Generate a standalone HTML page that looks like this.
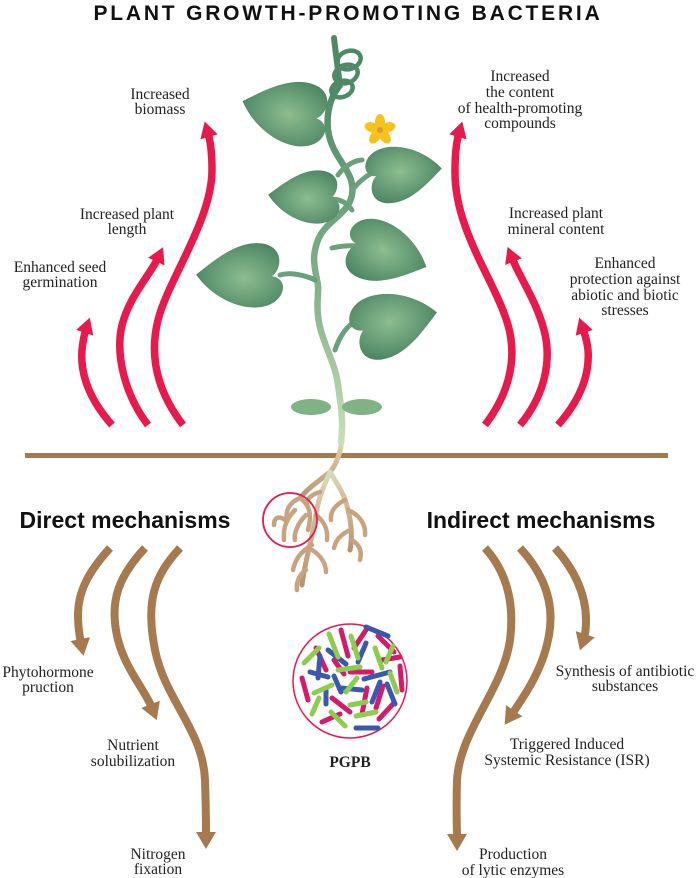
<!DOCTYPE html>
<html><head><meta charset="utf-8"><style>
html,body{margin:0;padding:0;background:#fff}
svg{display:block}
.t{font-family:"Liberation Serif",serif;font-size:15.5px;fill:#222;text-anchor:middle}
.h{font-family:"Liberation Sans",sans-serif;font-weight:bold;fill:#111}
</style></head><body>
<svg width="696" height="878" viewBox="0 0 696 878" xmlns="http://www.w3.org/2000/svg">
<defs>
<marker id="mr" markerUnits="userSpaceOnUse" markerWidth="24" markerHeight="24" refX="4" refY="9" orient="auto"><path d="M0,0 L16,9 L0,18 Z" fill="#e8194b"/></marker>
<marker id="mb" markerUnits="userSpaceOnUse" markerWidth="24" markerHeight="24" refX="4" refY="10" orient="auto"><path d="M0,0 L17,10 L0,20 Z" fill="#a67a4e"/></marker>
<radialGradient id="lg" cx="0.45" cy="0.45" r="0.6"><stop offset="0" stop-color="#8dbd90"/><stop offset="1" stop-color="#4a8461"/></radialGradient>
<linearGradient id="sg" x1="0" y1="0" x2="0" y2="1"><stop offset="0" stop-color="#4e8a66"/><stop offset="0.6" stop-color="#86b48c"/><stop offset="1" stop-color="#c9dfb6"/></linearGradient>
<linearGradient id="rg" x1="0" y1="0" x2="0" y2="1"><stop offset="0" stop-color="#d0e0c0"/><stop offset="0.25" stop-color="#dcc3a0"/><stop offset="1" stop-color="#b8936e"/></linearGradient>
<path id="leaf" d="M40,0 C18,-28 -22,-34 -34,-15 C-40,-4 -32,2 -26,2 C-34,8 -36,28 -16,30 C6,32 26,12 40,0Z"/>
</defs>
<text x="348" y="20" class="h" font-size="21" text-anchor="middle" letter-spacing="2.8">PLANT GROWTH-PROMOTING BACTERIA</text>

<!-- red arrows -->
<g fill="none" stroke="#e8194b" stroke-width="7.5" stroke-linecap="butt">
<path d="M183,425 C160,395 148,360 158,320 C168,280 212,220 212,170 C212,150 210,140 208,133" marker-end="url(#mr)"/>
<path d="M148,425 C125,395 115,355 122,325 C130,295 150,275 158,258" marker-end="url(#mr)"/>
<path d="M112,425 C90,400 80,375 82,350 C83,340 84,335 86,329" marker-end="url(#mr)"/>
<path d="M485,425 C508,395 518,360 508,325 C495,280 454,230 455,170 C455,150 457,140 459,133" marker-end="url(#mr)"/>
<path d="M520,425 C545,395 552,360 544,330 C536,300 520,278 512,258" marker-end="url(#mr)"/>
<path d="M558,425 C580,400 590,375 588,350 C587,340 585,335 583,329" marker-end="url(#mr)"/>
</g>

<!-- brown arrows -->
<g fill="none" stroke="#a67a4e" stroke-width="8">
<path d="M110,548 C90,570 78,590 78,615 C78,630 80,638 81,643" marker-end="url(#mb)"/>
<path d="M145,548 C120,575 108,600 118,640 C126,670 145,690 152,708" marker-end="url(#mb)"/>
<path d="M180,548 C155,575 145,600 155,650 C165,700 203,730 205,780 C206,810 206,825 206,836" marker-end="url(#mb)"/>
<path d="M555,548 C575,570 586,595 586,620 C586,630 585,635 584,638" marker-end="url(#mb)"/>
<path d="M520,548 C545,575 556,605 548,640 C542,670 525,695 512,714" marker-end="url(#mb)"/>
<path d="M485,548 C505,570 515,600 510,640 C503,690 460,730 457,780 C456,810 457,828 457,838" marker-end="url(#mb)"/>
</g>

<!-- ground -->
<rect x="25" y="453" width="643" height="5" fill="#a67a4e"/>

<!-- roots -->
<g fill="none" stroke="url(#rg)" stroke-width="5" stroke-linecap="round">
<path d="M342,440 C340,455 336,465 330,472 C320,480 308,488 300,498"/>
<path d="M330,472 C322,490 318,500 316,515 C312,540 305,560 302,585"/>
<path d="M330,472 C338,485 345,495 348,510 C352,525 352,540 350,550"/>
</g>
<g fill="none" stroke="#c7a47f" stroke-width="4.5" stroke-linecap="round">
<path d="M300,498 C290,502 285,510 287,520"/><path d="M300,498 C310,505 312,515 308,530"/>
<path d="M295,510 C285,520 283,530 284,540"/><path d="M306,515 C296,525 294,535 295,540"/>
<path d="M285,520 C278,515 274,518 274,525"/>
<path d="M316,515 C325,522 328,530 327,540"/><path d="M312,545 C300,552 295,560 293,570"/>
<path d="M312,550 C322,556 326,565 326,572"/><path d="M306,570 C298,575 296,585 297,590"/>
<path d="M345,500 C335,505 330,512 331,520"/><path d="M348,510 C360,515 366,525 365,535"/>
<path d="M350,530 C340,535 336,540 334,548"/><path d="M352,540 C360,545 362,552 360,560"/>
<path d="M320,492 C310,495 306,500 307,505"/>
</g>
<circle cx="290" cy="520" r="27" fill="none" stroke="#e8194b" stroke-width="1.8"/>

<!-- stem -->
<g fill="none" stroke-linecap="round">
<path d="M341,442 C344,420 340,400 338,385 C335,360 320,340 318,315 C316,300 320,290 317,280 C314,265 312,255 318,240 C326,220 348,215 352,195 C356,170 332,160 328,130 C326,110 332,95 340,85" stroke="url(#sg)" stroke-width="6.5"/>
<path d="M340,85 C338,70 336,55 334,38" stroke="#4e8a66" stroke-width="6"/>
<g stroke="#4e8a66" stroke-width="4.5">
<ellipse cx="349" cy="60" rx="12" ry="9" transform="rotate(-20 349 60)"/>
<ellipse cx="346" cy="74" rx="12" ry="9" transform="rotate(-20 346 74)"/>
<ellipse cx="342" cy="89" rx="11" ry="8" transform="rotate(-20 342 89)"/>
</g>
<g stroke="#6aa07a" stroke-width="5">
<path d="M318,130 C315,120 310,113 305,110"/>
<path d="M338,175 C345,165 356,160 362,160"/>
<path d="M352,190 C365,175 375,170 385,170"/>
<path d="M352,210 C345,200 335,198 330,200"/>
<path d="M332,248 C345,245 360,245 368,248"/>
<path d="M315,280 C305,275 290,272 280,275"/>
<path d="M335,350 C340,335 348,325 355,322"/>
</g>
</g>
<!-- leaves -->
<g fill="url(#lg)">
<use href="#leaf" transform="translate(287,113) rotate(195) scale(1.15)"/>
<use href="#leaf" transform="translate(402,172) rotate(-5) scale(1)"/>
<use href="#leaf" transform="translate(306,198) rotate(185) scale(0.95)"/>
<use href="#leaf" transform="translate(385,252) rotate(20) scale(1.1)"/>
<use href="#leaf" transform="translate(242,277) rotate(183) scale(1.15)"/>
<use href="#leaf" transform="translate(392,322) rotate(-12) scale(1.15)"/>
</g>
<ellipse cx="311" cy="407" rx="20" ry="8" fill="#7fb386"/>
<ellipse cx="362" cy="407" rx="20" ry="8" fill="#7fb386"/>
<!-- flower -->
<g transform="translate(380,130)" fill="#f7c21d">
<g><ellipse cx="0" cy="-8" rx="5" ry="8"/><ellipse cx="0" cy="-8" rx="5" ry="8" transform="rotate(72)"/><ellipse cx="0" cy="-8" rx="5" ry="8" transform="rotate(144)"/><ellipse cx="0" cy="-8" rx="5" ry="8" transform="rotate(216)"/><ellipse cx="0" cy="-8" rx="5" ry="8" transform="rotate(288)"/></g>
<circle r="3" fill="#d99a3a"/>
</g>

<!-- bacteria -->
<circle cx="350" cy="681" r="57" fill="#fff" stroke="#e8194b" stroke-width="1.5"/>
<g stroke-width="5" stroke-linecap="round">
<g stroke="#d5196b">
<line x1="316" y1="648" x2="326" y2="670"/><line x1="341" y1="630" x2="348" y2="656"/><line x1="354" y1="648" x2="366" y2="630"/>
<line x1="350" y1="672" x2="372" y2="672"/><line x1="378" y1="636" x2="394" y2="652"/><line x1="382" y1="660" x2="400" y2="657"/>
<line x1="302" y1="678" x2="308" y2="700"/><line x1="332" y1="698" x2="350" y2="712"/><line x1="367" y1="688" x2="362" y2="714"/>
<line x1="383" y1="686" x2="376" y2="708"/><line x1="393" y1="704" x2="379" y2="719"/><line x1="322" y1="722" x2="340" y2="714"/>
<line x1="334" y1="660" x2="344" y2="674"/><line x1="400" y1="666" x2="402" y2="690"/>
</g>
<g stroke="#3a58b0">
<line x1="328" y1="650" x2="346" y2="664"/><line x1="334" y1="676" x2="341" y2="692"/><line x1="358" y1="662" x2="366" y2="643"/>
<line x1="366" y1="627" x2="388" y2="636"/><line x1="364" y1="679" x2="390" y2="672"/><line x1="310" y1="672" x2="328" y2="677"/>
<line x1="320" y1="656" x2="318" y2="678"/><line x1="341" y1="688" x2="362" y2="690"/><line x1="372" y1="702" x2="380" y2="682"/>
<line x1="326" y1="688" x2="326" y2="704"/><line x1="356" y1="728" x2="378" y2="728"/><line x1="387" y1="684" x2="395" y2="704"/>
</g>
<g stroke="#8ccc4f">
<line x1="329" y1="634" x2="338" y2="657"/><line x1="304" y1="663" x2="319" y2="648"/><line x1="351" y1="636" x2="358" y2="658"/>
<line x1="375" y1="648" x2="382" y2="668"/><line x1="393" y1="646" x2="386" y2="662"/><line x1="338" y1="670" x2="360" y2="667"/>
<line x1="314" y1="693" x2="332" y2="685"/><line x1="346" y1="692" x2="357" y2="678"/><line x1="319" y1="698" x2="312" y2="714"/>
<line x1="331" y1="712" x2="345" y2="726"/><line x1="356" y1="716" x2="376" y2="712"/><line x1="390" y1="673" x2="397" y2="692"/>
<line x1="366" y1="702" x2="350" y2="705"/>
</g>
</g>
<text x="350" y="767" class="t" font-weight="bold" font-size="15">PGPB</text>

<!-- headings -->
<text x="125" y="528" class="h" font-size="23" text-anchor="middle">Direct mechanisms</text>
<text x="541" y="528" class="h" font-size="23" text-anchor="middle">Indirect mechanisms</text>

<!-- labels -->
<text class="t"><tspan x="160" y="99">Increased</tspan><tspan x="160" y="114">biomass</tspan></text>
<text class="t"><tspan x="127" y="219">Increased plant</tspan><tspan x="127" y="234">length</tspan></text>
<text class="t"><tspan x="60" y="272">Enhanced seed</tspan><tspan x="60" y="287">germination</tspan></text>
<text class="t"><tspan x="520" y="81">Increased</tspan><tspan x="520" y="97">the content</tspan><tspan x="520" y="113">of health-promoting</tspan><tspan x="520" y="128">compounds</tspan></text>
<text class="t"><tspan x="556" y="218">Increased plant</tspan><tspan x="556" y="234">mineral content</tspan></text>
<text class="t"><tspan x="625" y="268">Enhanced</tspan><tspan x="625" y="284">protection against</tspan><tspan x="625" y="300">abiotic and biotic</tspan><tspan x="625" y="315">stresses</tspan></text>
<text class="t"><tspan x="48" y="677">Phytohormone</tspan><tspan x="48" y="692">pruction</tspan></text>
<text class="t"><tspan x="133" y="750">Nutrient</tspan><tspan x="133" y="766">solubilization</tspan></text>
<text class="t"><tspan x="158" y="859">Nitrogen</tspan><tspan x="158" y="874">fixation</tspan></text>
<text class="t"><tspan x="625" y="676">Synthesis of antibiotic</tspan><tspan x="625" y="691">substances</tspan></text>
<text class="t"><tspan x="567" y="749">Triggered Induced</tspan><tspan x="567" y="765">Systemic Resistance (ISR)</tspan></text>
<text class="t"><tspan x="513" y="859">Production</tspan><tspan x="513" y="875">of lytic enzymes</tspan></text>
</svg>
</body></html>
